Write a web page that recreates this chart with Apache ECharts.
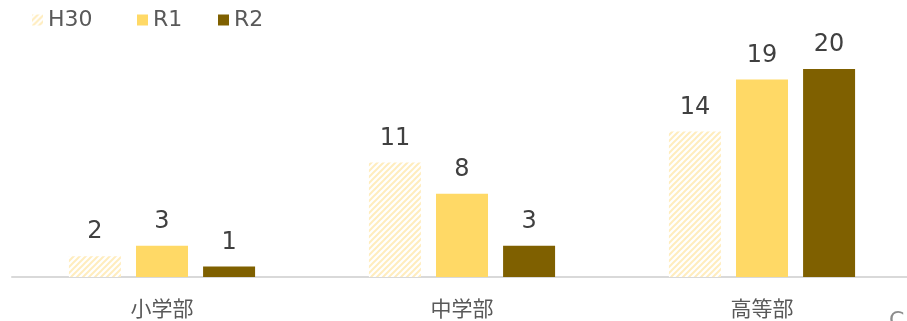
<!DOCTYPE html>
<html><head><meta charset="utf-8">
<script src="https://cdn.jsdelivr.net/npm/echarts@6/dist/echarts.min.js"></script>
<style>html,body{margin:0;padding:0;background:#fff;overflow:hidden;}#c{width:912px;height:321px;}</style>
</head><body><div id="c"></div>
<script>
const categories = ['小学部', '中学部', '高等部'];
const seriesNames = ['H30', 'R1', 'R2'];
const h30 = [2, 11, 14];
const r1 = [3, 8, 19];
const r2 = [1, 3, 20];

function hatch() {
  const s = 6;
  const cv = document.createElement('canvas');
  cv.width = s; cv.height = s;
  const g = cv.getContext('2d');
  g.fillStyle = '#ffffff'; g.fillRect(0, 0, s, s);
  g.strokeStyle = '#FFEDBE'; g.lineWidth = 2;
  g.beginPath();
  g.moveTo(-1, s + 1); g.lineTo(s + 1, -1);
  g.moveTo(-1, 1); g.lineTo(1, -1);
  g.moveTo(s - 1, s + 1); g.lineTo(s + 1, s - 1);
  g.stroke();
  return cv;
}
const pattern = { image: hatch(), repeat: 'repeat' };
const colors = [pattern, '#FFD966', '#7F6000'];
const dataSets = [h30, r1, r2];

const chart = echarts.init(document.getElementById('c'), null, { renderer: 'canvas' });
const legendPos = [32, 137, 218];
const labelFont = 'DejaVu Sans, sans-serif';
chart.setOption({
  animation: false,
  legend: seriesNames.map((n, i) => ({
    data: [n], left: legendPos[i], top: 9, itemWidth: 11, itemHeight: 11,
    icon: 'rect', itemGap: 0, padding: 0,
    textStyle: { fontSize: 22, color: '#595959', fontFamily: labelFont }
  })),
  grid: { left: 12, right: 0, top: 69, bottom: 44, containLabel: false },
  xAxis: {
    type: 'category', data: categories,
    axisLine: { lineStyle: { color: '#D9D9D9', width: 2 } },
    axisTick: { show: false },
    axisLabel: { color: '#595959', fontSize: 21, margin: 21, fontFamily: 'Noto Sans CJK JP, sans-serif' }
  },
  yAxis: { type: 'value', min: 0, max: 20, interval: 5, show: false, splitLine: { show: false } },
  series: seriesNames.map((n, i) => ({
    name: n, type: 'bar', data: dataSets[i],
    barWidth: 52, barGap: '29%',
    itemStyle: { color: colors[i] },
    label: { show: true, position: 'top', distance: 12, fontSize: 24, color: '#404040', fontFamily: labelFont }
  })),
  graphic: [{ type: 'text', left: 889, top: 310, style: { text: 'C', fontSize: 22, fill: '#8c8c8c', fontFamily: labelFont } }]
});
</script></body></html>
